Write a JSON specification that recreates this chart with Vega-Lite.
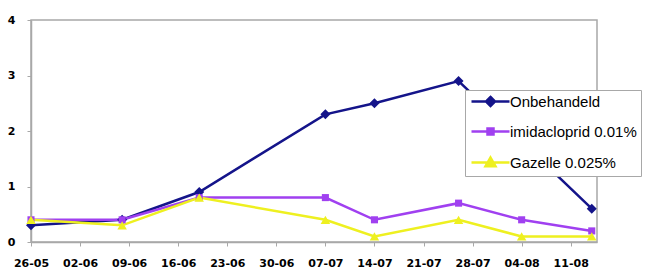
{
  "$schema": "https://vega.github.io/schema/vega-lite/v6.json",
  "width": 566,
  "height": 222,
  "autosize": {"type": "none"},
  "padding": {"left": 31, "top": 20, "right": 48, "bottom": 29},
  "background": "white",
  "config": {
    "view": {"stroke": "#a8a8a8", "strokeWidth": 1.5},
    "axis": {
      "domainColor": "#a8a8a8",
      "domainWidth": 1.5,
      "tickColor": "#a8a8a8",
      "tickWidth": 1,
      "grid": false,
      "labelFont": "DejaVu Sans",
      "labelFontWeight": "bold",
      "labelFontSize": 11,
      "labelColor": "#000000",
      "title": null
    }
  },
  "data": {
    "values": [
      {"date": "2008-05-26", "series": "Onbehandeld", "value": 0.3},
      {"date": "2008-06-08", "series": "Onbehandeld", "value": 0.4},
      {"date": "2008-06-19", "series": "Onbehandeld", "value": 0.9},
      {"date": "2008-07-07", "series": "Onbehandeld", "value": 2.3},
      {"date": "2008-07-14", "series": "Onbehandeld", "value": 2.5},
      {"date": "2008-07-26", "series": "Onbehandeld", "value": 2.9},
      {"date": "2008-08-14", "series": "Onbehandeld", "value": 0.6},
      {"date": "2008-05-26", "series": "imidacloprid 0.01%", "value": 0.4},
      {"date": "2008-06-08", "series": "imidacloprid 0.01%", "value": 0.4},
      {"date": "2008-06-19", "series": "imidacloprid 0.01%", "value": 0.8},
      {"date": "2008-07-07", "series": "imidacloprid 0.01%", "value": 0.8},
      {"date": "2008-07-14", "series": "imidacloprid 0.01%", "value": 0.4},
      {"date": "2008-07-26", "series": "imidacloprid 0.01%", "value": 0.7},
      {"date": "2008-08-04", "series": "imidacloprid 0.01%", "value": 0.4},
      {"date": "2008-08-14", "series": "imidacloprid 0.01%", "value": 0.2},
      {"date": "2008-05-26", "series": "Gazelle 0.025%", "value": 0.4},
      {"date": "2008-06-08", "series": "Gazelle 0.025%", "value": 0.3},
      {"date": "2008-06-19", "series": "Gazelle 0.025%", "value": 0.8},
      {"date": "2008-07-07", "series": "Gazelle 0.025%", "value": 0.4},
      {"date": "2008-07-14", "series": "Gazelle 0.025%", "value": 0.1},
      {"date": "2008-07-26", "series": "Gazelle 0.025%", "value": 0.4},
      {"date": "2008-08-04", "series": "Gazelle 0.025%", "value": 0.1},
      {"date": "2008-08-14", "series": "Gazelle 0.025%", "value": 0.1}
    ]
  },
  "encoding": {
    "x": {
      "field": "date",
      "type": "temporal",
      "scale": {
        "type": "utc",
        "domain": [
          {"year": 2008, "month": 5, "date": 26, "utc": true},
          {"year": 2008, "month": 8, "date": 14, "hours": 18, "utc": true}
        ]
      },
      "axis": {
        "values": [
          {"year": 2008, "month": 5, "date": 26, "utc": true},
          {"year": 2008, "month": 6, "date": 2, "utc": true},
          {"year": 2008, "month": 6, "date": 9, "utc": true},
          {"year": 2008, "month": 6, "date": 16, "utc": true},
          {"year": 2008, "month": 6, "date": 23, "utc": true},
          {"year": 2008, "month": 6, "date": 30, "utc": true},
          {"year": 2008, "month": 7, "date": 7, "utc": true},
          {"year": 2008, "month": 7, "date": 14, "utc": true},
          {"year": 2008, "month": 7, "date": 21, "utc": true},
          {"year": 2008, "month": 7, "date": 28, "utc": true},
          {"year": 2008, "month": 8, "date": 4, "utc": true},
          {"year": 2008, "month": 8, "date": 11, "utc": true}
        ],
        "labelExpr": "utcFormat(datum.value, '%d-%m')",
        "tickSize": 4,
        "labelPadding": 11,
        "labelFlush": false,
        "labelOverlap": false
      }
    },
    "y": {
      "field": "value",
      "type": "quantitative",
      "scale": {"domain": [0, 4], "nice": false},
      "axis": {"values": [0, 1, 2, 3, 4], "tickSize": 4, "labelPadding": 12}
    },
    "color": {
      "field": "series",
      "type": "nominal",
      "scale": {
        "domain": ["Onbehandeld", "imidacloprid 0.01%", "Gazelle 0.025%"],
        "range": ["#14148a", "#a040f0", "#eef020"]
      },
      "legend": {
        "title": null,
        "orient": "none",
        "legendX": 434,
        "legendY": 70,
        "padding": 4,
        "fillColor": "white",
        "strokeColor": "#a8a8a8",
        "labelFont": "Liberation Sans",
        "labelFontSize": 15,
        "labelColor": "#000000",
        "labelOffset": 26,
        "symbolSize": 100,
        "symbolStrokeWidth": 2.5,
        "rowPadding": 12,
        "encode": {
          "symbols": {
            "update": {
              "shape": {"signal": "datum.value === 'Onbehandeld' ? 'M-1,0H6.6M2.8,-0.9L3.7,0L2.8,0.9L1.9,0Z' : datum.value === 'imidacloprid 0.01%' ? 'M-1,0H6.6M2.2,-0.6H3.4V0.6H2.2Z' : 'M-1,0H6.6M2.8,-1.0L3.8,0.75H1.8Z'"},
              "fill": {"scale": "color", "field": "value"},
              "stroke": {"scale": "color", "field": "value"},
              "fillOpacity": {"value": 1},
              "strokeWidth": {"value": 2.5}
            }
          }
        }
      }
    }
  },
  "layer": [
    {
      "mark": {"type": "line", "strokeWidth": 2.5}
    },
    {
      "transform": [{"filter": "datum.series === 'Onbehandeld'"}],
      "mark": {"type": "point", "filled": true, "opacity": 1, "shape": "diamond", "size": 100}
    },
    {
      "transform": [{"filter": "datum.series === 'imidacloprid 0.01%'"}],
      "mark": {"type": "point", "filled": true, "opacity": 1, "shape": "square", "size": 50}
    },
    {
      "transform": [{"filter": "datum.series === 'Gazelle 0.025%'"}],
      "mark": {"type": "point", "filled": true, "opacity": 1, "shape": "triangle-up", "size": 90}
    }
  ]
}
